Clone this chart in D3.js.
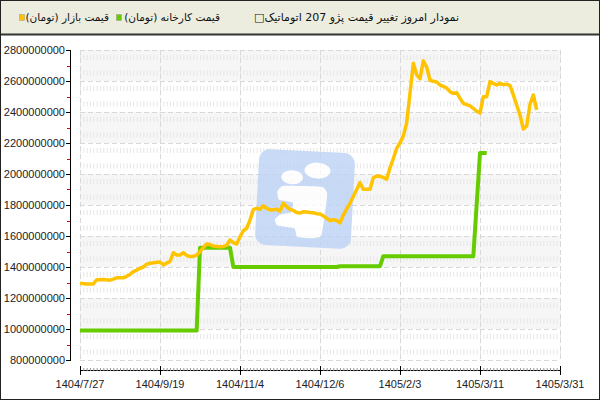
<!DOCTYPE html>
<html><head><meta charset="utf-8">
<script src="https://cdn.jsdelivr.net/npm/d3@7/dist/d3.min.js"></script>
<style>html,body{margin:0;padding:0;background:#fff}svg{display:block}</style>
</head><body>
<svg id="c" width="600" height="400"></svg>
<script>
// ---- data ----
const titleText = "نمودار امروز تغییر قیمت پژو 207 اتوماتیک□";
const seriesNames = ["قیمت بازار (تومان)", "قیمت کارخانه (تومان)"];
const tickLabels = ["1404/7/27","1404/9/19","1404/11/4","1404/12/6","1405/2/3","1405/3/11","1405/3/31"];
const tickIndex = [0,24,48,72,96,120,144];
// market price (million toman) by day index
const marketIdx = [0,2,4,5,7,9,10,11,13,14,15,16,17,18,19,20,21,22,24,25,26,27,28,29,30,31,32,33,34,35,36,37,38,39,40,42,43,44,45,46,47,48,49,50,51,52,53,54,55,56,57,58,59,60,61,62,63,64,65,66,67,68,69,70,71,72,73,74,75,76,77,78,79,80,81,82,83,84,85,86,87,88,89,90,91,92,93,94,95,96,97,98,99,100,101,102,103,104,105,106,107,108,109,110,111,112,113,114,115,116,117,118,119,120,121,122,123,124,125,126,127,128,129,130,131,132,133,134,135,136,137];
const marketPrice = [1295,1290,1290,1318,1320,1315,1322,1330,1330,1340,1352,1370,1380,1392,1400,1418,1424,1427,1432,1413,1425,1436,1492,1477,1478,1492,1475,1467,1468,1477,1499,1525,1548,1545,1535,1531,1533,1540,1574,1557,1548,1595,1634,1650,1703,1770,1779,1772,1795,1778,1768,1770,1772,1760,1811,1789,1772,1765,1752,1748,1757,1755,1752,1750,1744,1742,1730,1714,1700,1705,1700,1685,1735,1775,1811,1855,1900,1944,1901,1901,1901,1975,1987,1985,1978,1966,2040,2100,2165,2200,2245,2330,2520,2714,2640,2615,2730,2690,2605,2598,2594,2574,2565,2555,2531,2520,2525,2488,2456,2448,2440,2424,2405,2393,2499,2499,2596,2585,2574,2585,2576,2580,2570,2510,2445,2380,2290,2310,2450,2510,2413];
// factory price (million toman) by day index
const factoryIdx = [0,35,36,45,46,77,78,90,91,118,120,122];
const factoryPrice = [990,990,1525,1525,1400,1400,1405,1405,1470,1470,2135,2135];

const colors = {market:"#ffc300", factory:"#66cc00"};

// ---- drawing ----
const svg = d3.select("#c");
const x = d3.scaleLinear().domain([0,144]).range([80,560]);
const y = d3.scaleLinear().domain([800,2800]).range([360,50]);
const majors = d3.range(800,2801,200);
const minors = d3.range(900,2800,200);

// outer frame
svg.append("rect").attr("x",0.5).attr("y",0.5).attr("width",599).attr("height",399)
  .attr("fill","#fff").attr("stroke","#222").attr("stroke-width",1);
// header
svg.append("rect").attr("x",1).attr("y",1).attr("width",598).attr("height",33).attr("fill","#ededdf");
svg.append("line").attr("x1",1).attr("x2",599).attr("y1",34.5).attr("y2",34.5).attr("stroke","#333").attr("stroke-width",2);

const hdrFont = "DejaVu Sans, sans-serif";
svg.append("text").attr("x",459).attr("y",21).attr("direction","rtl").attr("text-anchor","start")
  .attr("font-family",hdrFont).attr("font-size",11).attr("fill","#111").text(titleText);
const leg = [{name:seriesNames[1], c:colors.factory, tx:220, sx:116.5},{name:seriesNames[0], c:colors.market, tx:109, sx:19.5}];
leg.forEach(l=>{
  svg.append("rect").attr("x",l.sx).attr("y",14.5).attr("width",5).attr("height",6)
    .attr("fill",l.c).attr("stroke","#999").attr("stroke-width",0.5);
  svg.append("text").attr("x",l.tx).attr("y",21).attr("direction","rtl").attr("text-anchor","start")
    .attr("font-family",hdrFont).attr("font-size",10.5).attr("fill","#111").text(l.name);
});

// bands
const g = svg.append("g");
for (let i=0;i<majors.length-1;i++){
  if ((majors.length-2-i)%2===0){
    g.append("rect").attr("x",x(0)).attr("width",x(144)-x(0))
      .attr("y",y(majors[i+1])).attr("height",y(majors[i])-y(majors[i+1])).attr("fill","#f6f6f6");
  }
}
// minor vertical dashed grid
g.selectAll(".mv").data(d3.range(0,145)).enter().append("line")
  .attr("x1",d=>x(d)+0.5).attr("x2",d=>x(d)+0.5).attr("y1",50).attr("y2",360)
  .attr("stroke","#e6e6e6").attr("stroke-width",1).attr("stroke-dasharray","5,10.5").attr("stroke-dashoffset",-5);
// major grid
g.selectAll(".hg").data(majors).enter().append("line")
  .attr("x1",x(0)).attr("x2",x(144)).attr("y1",d=>Math.round(y(d))+0.5).attr("y2",d=>Math.round(y(d))+0.5)
  .attr("stroke","#d8d8d8").attr("stroke-dasharray","5,3");
g.selectAll(".vg").data(tickIndex).enter().append("line")
  .attr("x1",d=>x(d)+0.5).attr("x2",d=>x(d)+0.5).attr("y1",50).attr("y2",360)
  .attr("stroke","#d8d8d8").attr("stroke-dasharray","5,3");

// watermark logo
const logo = svg.append("g").attr("transform","translate(305,199) rotate(3)").attr("opacity",0.8);
logo.append("rect").attr("x",-48).attr("y",-48).attr("width",96).attr("height",96).attr("rx",11).attr("fill","#bcd3f5");
logo.append("ellipse").attr("cx",11).attr("cy",-29).attr("rx",13).attr("ry",8).attr("fill","#fff");
logo.append("ellipse").attr("cx",-14).attr("cy",-21).attr("rx",11).attr("ry",7).attr("fill","#fff");
const body = [[-28,-6],[-22,-12],[16,-13],[22,-6],[20,20],[18,36],[8,39],[-6,38],[-9,30],[-26,28],[-29,22],[-24,17],[-13,14],[-12,4],[-26,2]];
logo.append("path").attr("d", d3.line().curve(d3.curveCardinalClosed.tension(0.6))(body)).attr("fill","#fff");

// y axis
const ax = svg.append("g").attr("font-family","Liberation Sans, Arial, sans-serif").attr("font-size",11).attr("fill","#222");
ax.append("line").attr("x1",70.5).attr("x2",70.5).attr("y1",50).attr("y2",360).attr("stroke","#000");
ax.selectAll(".yt").data(majors).enter().append("line")
  .attr("x1",66).attr("x2",71).attr("y1",d=>Math.round(y(d))+0.5).attr("y2",d=>Math.round(y(d))+0.5).attr("stroke","#000");
ax.selectAll(".ym").data(minors).enter().append("line")
  .attr("x1",67).attr("x2",70).attr("y1",d=>Math.round(y(d))+0.5).attr("y2",d=>Math.round(y(d))+0.5).attr("stroke","#e00000");
ax.selectAll(".yl").data(majors).enter().append("text")
  .attr("x",65).attr("y",d=>y(d)+4).attr("text-anchor","end").text(d=>d3.format("d")(d*1e6));
// x axis
ax.append("line").attr("x1",x(0)).attr("x2",x(144)+1).attr("y1",370.5).attr("y2",370.5).attr("stroke","#000");
ax.selectAll(".xm").data(d3.range(0,145)).enter().append("line")
  .attr("x1",d=>x(d)+0.5).attr("x2",d=>x(d)+0.5).attr("y1",368).attr("y2",371).attr("stroke","#999");
ax.selectAll(".xt").data(tickIndex).enter().append("line")
  .attr("x1",d=>x(d)+0.5).attr("x2",d=>x(d)+0.5).attr("y1",366).attr("y2",375).attr("stroke","#000");
ax.selectAll(".xl").data(tickIndex).enter().append("text")
  .attr("x",d=>x(d)).attr("y",388).attr("text-anchor","middle").text((d,i)=>tickLabels[i]);

// lines
const line = d3.line().x(d=>x(d[0])).y(d=>y(d[1]));
const fac = factoryIdx.map((d,i)=>[d,factoryPrice[i]]);
const mkt = marketIdx.map((d,i)=>[d,marketPrice[i]]);
svg.append("path").attr("d",line(fac)).attr("fill","none").attr("stroke",colors.factory)
  .attr("stroke-width",4).attr("stroke-linejoin","round");
svg.append("path").attr("d",line(mkt)).attr("fill","none").attr("stroke",colors.market)
  .attr("stroke-width",3.5).attr("stroke-linejoin","round");
</script>
</body></html>
